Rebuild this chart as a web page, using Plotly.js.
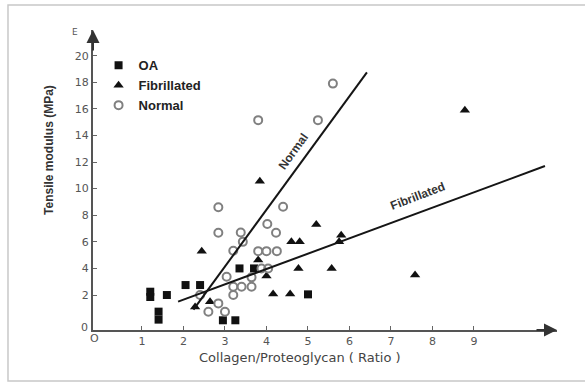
<!DOCTYPE html>
<html>
<head>
<meta charset="utf-8">
<script src="https://cdn.plot.ly/plotly-3.0.1.min.js"></script>
<style>html,body{margin:0;padding:0;background:#fff;}#chart{width:585px;height:385px;}</style>
</head>
<body>
<div id="chart"></div>
<script>
// ---- data ----
const oaX = [1.2, 1.2, 1.6, 1.4, 1.4, 2.05, 2.4, 2.95, 3.25, 3.35, 3.7, 5.0];
const oaY = [2.25, 1.85, 2.0, 0.75, 0.15, 2.75, 2.75, 0.1, 0.1, 4.0, 4.0, 2.05];

const fibX = [8.78, 7.58, 3.84, 2.44, 5.2, 4.6, 4.8, 5.8, 5.75, 3.8, 4.0, 4.77, 5.57, 4.16, 4.57, 2.64, 2.28];
const fibY = [15.9, 3.5, 10.56, 5.3, 7.3, 6.0, 6.0, 6.5, 6.0, 4.63, 3.43, 4.0, 4.0, 2.07, 2.07, 1.5, 1.1];

const norX = [5.6, 5.24, 3.8, 2.84, 4.4, 4.02, 4.23, 2.84, 3.38, 3.43, 3.2, 3.8, 4.0, 4.25, 3.88, 4.04, 3.04, 3.64, 3.2, 3.4, 3.64, 3.2, 2.4, 2.84, 2.6, 3.0];
const norY = [17.9, 15.15, 15.15, 8.6, 8.64, 7.34, 6.68, 6.68, 6.7, 6.0, 5.33, 5.3, 5.3, 5.3, 4.0, 4.0, 3.38, 3.33, 2.62, 2.62, 2.62, 2.0, 2.0, 1.37, 0.74, 0.74];

// regression lines (end points)
const normalLineX = [2.24, 6.42];
const normalLineY = [0.9, 18.75];
const fibLineX = [1.87, 10.71];
const fibLineY = [1.5, 11.7];

const xTicks = [1, 2, 3, 4, 5, 6, 7, 8, 9];
const yTicks = [2, 4, 6, 8, 10, 12, 14, 16, 18, 20];

const xRange = [-0.18, 11.0];
const yRange = [-0.63, 21.93];

const traces = [
  {x: oaX, y: oaY, mode: 'markers', name: 'OA', type: 'scatter',
   marker: {symbol: 'square', size: 8, color: '#111'}},
  {x: fibX, y: fibY, mode: 'markers', name: 'Fibrillated', type: 'scatter',
   marker: {symbol: 'triangle-up', size: 9, color: '#111'}},
  {x: norX, y: norY, mode: 'markers', name: 'Normal', type: 'scatter',
   marker: {symbol: 'circle-open', size: 8, color: '#808080', line: {width: 2, color: '#808080'}}},
  {x: normalLineX, y: normalLineY, mode: 'lines', showlegend: false, type: 'scatter',
   line: {color: '#151515', width: 2}},
  {x: fibLineX, y: fibLineY, mode: 'lines', showlegend: false, type: 'scatter',
   line: {color: '#151515', width: 2}}
];

const tickFont = {family: 'DejaVu Sans, sans-serif', size: 11, color: '#555'};

const layout = {
  width: 585, height: 385,
  margin: {l: 93, r: 28, t: 30, b: 55},
  paper_bgcolor: '#fff', plot_bgcolor: '#fff',
  showlegend: true,
  legend: {x: 0.012, y: 0.932, xanchor: 'left', yanchor: 'top',
    font: {family: 'Liberation Sans, Arial, sans-serif', size: 13, color: '#222', weight: 'bold'},
    bgcolor: 'rgba(0,0,0,0)', tracegroupgap: 0, itemwidth: 30},
  xaxis: {range: xRange, tickvals: xTicks, ticktext: xTicks.map(String),
    showgrid: false, zeroline: false, showline: true, linecolor: '#555', linewidth: 2,
    ticks: 'inside', ticklen: 4, tickcolor: '#666', tickfont: tickFont},
  yaxis: {range: yRange, tickvals: yTicks, ticktext: yTicks.map(String),
    showgrid: false, zeroline: false, showline: true, linecolor: '#555', linewidth: 2,
    ticks: 'inside', ticklen: 4, tickcolor: '#666', tickfont: tickFont},
  annotations: [
    // axis arrows
    {x: xRange[1], y: yRange[0], xref: 'x', yref: 'y', ax: -22, ay: 0, showarrow: true,
     arrowhead: 2, arrowsize: 1.3, arrowwidth: 2, arrowcolor: '#333', text: ''},
    {x: xRange[0], y: yRange[1], xref: 'x', yref: 'y', ax: 0, ay: 22, showarrow: true,
     arrowhead: 2, arrowsize: 1.3, arrowwidth: 2, arrowcolor: '#333', text: ''},
    {x: -0.039, y: 0.993, xref: 'paper', yref: 'paper', xanchor: 'center', yanchor: 'middle',
     text: 'E', showarrow: false, font: {family: 'DejaVu Sans, sans-serif', size: 9, color: '#555'}},
    {x: -0.018, y: 0.007, xref: 'paper', yref: 'paper', xanchor: 'center', yanchor: 'middle',
     text: '0', showarrow: false, font: tickFont},
    {x: 0.004, y: -0.027, xref: 'paper', yref: 'paper', xanchor: 'center', yanchor: 'middle',
     text: 'O', showarrow: false, font: tickFont},
    // axis titles
    {x: 0.446, y: -0.09, xref: 'paper', yref: 'paper', xanchor: 'center', yanchor: 'middle',
     text: 'Collagen/Proteoglycan ( Ratio )',
     showarrow: false, font: {family: 'DejaVu Sans, sans-serif', size: 13, color: '#444'}},
    {x: -0.095, y: 0.6, xref: 'paper', yref: 'paper', xanchor: 'center', yanchor: 'middle',
     text: 'Tensile modulus (MPa)', textangle: -90,
     showarrow: false, font: {family: 'Liberation Sans Narrow, Liberation Sans, Arial, sans-serif', size: 12, color: '#333', weight: 'bold'}},
    // line labels
    {x: 4.64, y: 12.75, xref: 'x', yref: 'y', text: 'Normal', textangle: -54, showarrow: false,
     font: {family: 'Liberation Sans, Arial, sans-serif', size: 12, color: '#333', weight: 'bold'}},
    {x: 7.65, y: 9.44, xref: 'x', yref: 'y', text: 'Fibrillated', textangle: -21, showarrow: false,
     font: {family: 'Liberation Sans, Arial, sans-serif', size: 12, color: '#333', weight: 'bold'}}
  ],
  shapes: [
    {type: 'rect', xref: 'paper', yref: 'paper', x0: -0.1832, x1: 1.0647, y0: -0.17, y1: 1.0833,
     line: {color: '#c8c8c8', width: 1.5}, fillcolor: 'rgba(0,0,0,0)', layer: 'below'}
  ]
};

Plotly.newPlot('chart', traces, layout, {displayModeBar: false, staticPlot: true});
</script>
</body>
</html>
